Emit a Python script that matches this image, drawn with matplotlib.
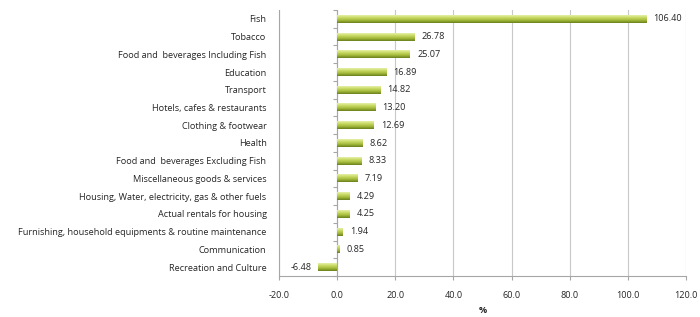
import matplotlib.pyplot as plt
from matplotlib.colors import LinearSegmentedColormap
from matplotlib.markers import TICKLEFT
import numpy as np

categories = [
    "Fish",
    "Tobacco",
    "Food and  beverages Including Fish",
    "Education",
    "Transport",
    "Hotels, cafes & restaurants",
    "Clothing & footwear",
    "Health",
    "Food and  beverages Excluding Fish",
    "Miscellaneous goods & services",
    "Housing, Water, electricity, gas & other fuels",
    "Actual rentals for housing",
    "Furnishing, household equipments & routine maintenance",
    "Communication",
    "Recreation and Culture",
]
values = [106.40, 26.78, 25.07, 16.89, 14.82, 13.20, 12.69, 8.62, 8.33,
          7.19, 4.29, 4.25, 1.94, 0.85, -6.48]
xticks = [-20, 0, 20, 40, 60, 80, 100, 120]

plt.rcParams['font.family'] = ['Open Sans', 'DejaVu Sans']
fs = 6.6
tcol = '#262626'
gcol = '#a6a6a6'

fig = plt.figure(figsize=(7.0, 3.17), dpi=100)
ax = fig.add_axes([279 / 700, 1 - 276 / 317, (686 - 279) / 700, (276 - 10) / 317])

y = np.arange(len(categories))
h = 0.44
# vertical gradient: light top -> olive -> dark bottom
cmap = LinearSegmentedColormap.from_list(
    'bar', ['#e6f0a6', '#c6d862', '#a2b83a', '#6a801c'])
grad = np.linspace(0, 1, 32).reshape(-1, 1)
for yi, v in zip(y, values):
    ax.imshow(grad, cmap=cmap, aspect='auto', interpolation='bilinear',
              extent=(0, v, yi + h / 2, yi - h / 2), zorder=3)
    if v >= 0:
        ax.text(v + 2.4, yi, f"{v:.2f}", va='center', ha='left', fontsize=fs, color=tcol)
    else:
        ax.text(v - 2.4, yi, f"{v:.2f}", va='center', ha='right', fontsize=fs, color=tcol)

ax.set_ylim(len(categories) - 0.5, -0.5)
ax.set_yticks(y)
ax.set_yticklabels(categories, fontsize=fs, color=tcol)
ax.tick_params(axis='y', length=0, pad=9)

# category-boundary tick marks on the zero line
bounds = np.arange(len(categories) + 1) - 0.5
ax.plot(np.zeros_like(bounds), bounds, linestyle='none', marker=TICKLEFT,
        markersize=3, markeredgewidth=0.8, color=gcol, zorder=2, clip_on=False)
ax.axvline(0, color=gcol, linewidth=0.8, zorder=2)

ax.set_xlim(-20, 120)
ax.set_xticks(xticks)
ax.set_xticklabels([f"{t:.1f}" for t in xticks], fontsize=fs, color=tcol)
ax.tick_params(axis='x', length=3, color=gcol, pad=8)
ax.set_xlabel('%', fontsize=fs, color=tcol, fontweight='bold', labelpad=4)

ax.grid(axis='x', color='#c8c8c8', linewidth=0.8, zorder=0)
ax.set_axisbelow(True)
for s in ['top', 'right']:
    ax.spines[s].set_visible(False)
for s in ['left', 'bottom']:
    ax.spines[s].set_color(gcol)
    ax.spines[s].set_linewidth(0.8)

fig.savefig('out.png', dpi=100)
